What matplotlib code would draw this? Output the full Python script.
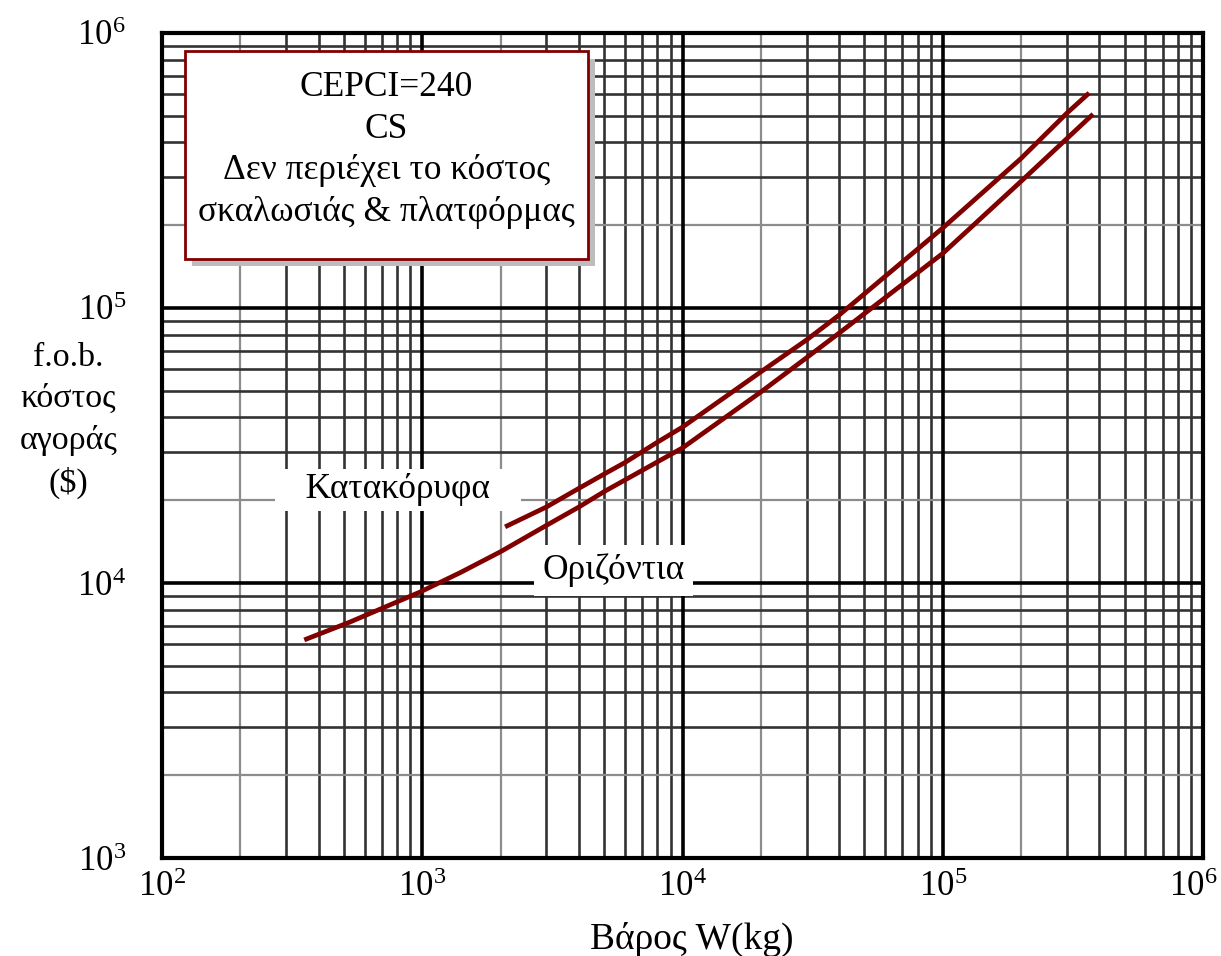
import matplotlib
matplotlib.use('Agg')
import matplotlib.pyplot as plt
import matplotlib.transforms as mtrans
from matplotlib.patches import Rectangle

# (W in kg, cost in $)
vert_w = [2080, 3000, 4000, 5000, 6000, 8000, 10000, 20000, 30000, 40000,
          100000, 200000, 299000, 365000]
vert_cost = [16000, 18900, 22100, 24900, 27400, 32500, 36900, 58600, 76600, 94300,
             195500, 350000, 510000, 605000]

horiz_w = [352, 527, 980, 1397, 2000, 3000, 4000, 5000, 10000, 20000, 30000, 40000,
           100000, 200000, 378000]
horiz_cost = [6210, 7210, 9270, 10900, 13000, 16200, 18900, 21500, 31000, 49500, 66000, 81100,
              158000, 289000, 507000]

x_ticks = [1e2, 1e3, 1e4, 1e5, 1e6]
y_ticks = [1e3, 1e4, 1e5, 1e6]

box_lines = ['CEPCI=240', 'CS', 'Δεν περιέχει το κόστος', 'σκαλωσιάς & πλατφόρμας']
vert_label = 'Κατακόρυφα'
horiz_label = 'Οριζόντια'
x_label = 'Βάρος W(kg)'
y_label = 'f.o.b.\nκόστος\nαγοράς\n($)'

RED = '#800000'


def plot_graph():
    plt.rcParams['font.family'] = ['Liberation Serif', 'DejaVu Serif']
    plt.rcParams['mathtext.default'] = 'regular'

    fig = plt.figure(figsize=(12.21, 9.56), dpi=100)
    ax = fig.add_axes([0.1327, 0.1025, 0.8526, 0.863])
    ax.set_xscale('log')
    ax.set_yscale('log')
    ax.set_xlim(1e2, 1e6)
    ax.set_ylim(1e3, 1e6)

    # grid: decades black, 2x grey, 3..9 dark grey
    for d in range(2, 6):
        base = 10 ** d
        for m in range(2, 10):
            if m == 2:
                ax.axvline(m * base, color='#8c8c8c', lw=1.6, zorder=1)
            else:
                ax.axvline(m * base, color='#333333', lw=1.9, zorder=1)
    for d in range(3, 6):
        base = 10 ** d
        for m in range(2, 10):
            if m == 2:
                ax.axhline(m * base, color='#8c8c8c', lw=1.6, zorder=1)
            else:
                ax.axhline(m * base, color='#333333', lw=1.9, zorder=1)
    for d in range(3, 6):
        ax.axvline(10 ** d, color='black', lw=2.6, zorder=1.5)
    for d in range(4, 6):
        ax.axhline(10 ** d, color='black', lw=2.6, zorder=1.5)

    for s in ax.spines.values():
        s.set_linewidth(3)
        s.set_zorder(5)

    ax.plot(vert_w, vert_cost, color=RED, lw=3.4, zorder=4, solid_capstyle='butt')
    ax.plot(horiz_w, horiz_cost, color=RED, lw=3.4, zorder=4, solid_capstyle='butt')

    ax.set_xticks(x_ticks)
    ax.set_yticks(y_ticks)
    ax.minorticks_off()
    ax.tick_params(which='both', length=0, labelsize=25)
    ax.tick_params(axis='y', pad=26)
    ax.tick_params(axis='x', pad=9)
    # keep the last x label inside the figure
    last = ax.xaxis.get_major_ticks()[-1].label1
    last.set_transform(last.get_transform() +
                       mtrans.ScaledTranslation(-7 / 72, 0, fig.dpi_scale_trans))

    ax.text(807, 21800, '   ' + vert_label + '   ', fontsize=25.5, ha='center', va='center',
            zorder=3, bbox=dict(facecolor='white', edgecolor='none', pad=3))
    ax.text(5410, 11100, horiz_label, fontsize=25.5, ha='center', va='center', zorder=3,
            bbox=dict(facecolor='white', edgecolor='none', pad=6))

    # note box with drop shadow
    bx, by, bw, bh = 0.022, 0.726, 0.387, 0.252
    ax.add_patch(Rectangle((bx + 0.007, by - 0.009), bw, bh, transform=ax.transAxes,
                           facecolor='#bdbdbd', edgecolor='none', zorder=6))
    ax.add_patch(Rectangle((bx, by), bw, bh, transform=ax.transAxes,
                           facecolor='white', edgecolor=RED, lw=2, zorder=7))
    ax.text(bx + bw / 2, by + bh / 2 + 0.006, '\n'.join(box_lines), transform=ax.transAxes,
            fontsize=25.5, ha='center', va='center', linespacing=1.34, zorder=8)

    ax.set_xlabel(x_label, fontsize=27)
    ax.xaxis.set_label_coords(0.509, -0.077)
    ax.set_ylabel(y_label, fontsize=24.5, rotation=0, ha='center', va='center', linespacing=1.45)
    ax.yaxis.set_label_coords(-0.090, 0.530)

    fig.savefig('out.png', dpi=100)
    plt.close(fig)


if __name__ == '__main__':
    plot_graph()
